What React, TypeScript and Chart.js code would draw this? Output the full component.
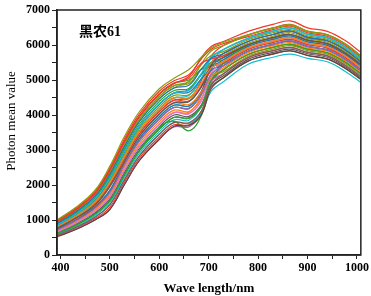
import React, { useEffect, useRef } from 'react';
import { Chart, registerables } from 'chart.js';

Chart.register(...registerables);

const wavelengths = [393, 430, 470, 500, 530, 560, 600, 630, 660, 685, 705, 730, 780, 830, 865, 900, 940, 975, 1008];

const s01 = [1000, 1350, 1850, 2540, 3400, 4100, 4750, 5050, 5300, 5650, 5920, 6080, 6290, 6480, 6560, 6390, 6290, 6040, 5690];
const s02 = [950, 1290, 1770, 2430, 3260, 3960, 4600, 4900, 5100, 5630, 5960, 6100, 6390, 6590, 6690, 6490, 6390, 6140, 5790];
const s03 = [900, 1220, 1680, 2310, 3110, 3820, 4460, 4770, 4850, 5305, 5620, 5755, 6100, 6300, 6400, 6220, 6120, 5870, 5520];
const s04 = [860, 1160, 1600, 2190, 2970, 3680, 4320, 4630, 4700, 5180, 5660, 5870, 6190, 6390, 6490, 6310, 6210, 5960, 5610];
const s05 = [810, 1100, 1510, 2070, 2820, 3540, 4170, 4490, 4500, 4905, 5340, 5525, 5910, 6110, 6210, 6050, 5950, 5690, 5360];
const s06 = [760, 1040, 1430, 1960, 2680, 3400, 4030, 4350, 4380, 4810, 5390, 5640, 6010, 6210, 6300, 6140, 6040, 5780, 5440];
const s07 = [710, 970, 1340, 1790, 2590, 3260, 3880, 4210, 4200, 4580, 5160, 5410, 5820, 6020, 6120, 5960, 5860, 5610, 5270];
const s08 = [660, 910, 1250, 1670, 2450, 3120, 3740, 4070, 4030, 4435, 5200, 5525, 5920, 6120, 6200, 6050, 5950, 5700, 5350];
const s09 = [620, 850, 1170, 1550, 2300, 2980, 3590, 3930, 3900, 4255, 4980, 5295, 5730, 5930, 6020, 5880, 5780, 5520, 5180];
const s10 = [570, 780, 1080, 1440, 2160, 2840, 3450, 3790, 3780, 4110, 4860, 5180, 5640, 5840, 5930, 5790, 5690, 5430, 5100];
const s11 = [520, 720, 1000, 1300, 2020, 2700, 3300, 3680, 3700, 4005, 4750, 5065, 5540, 5740, 5830, 5700, 5600, 5350, 5020];
const s12 = [950, 1280, 1760, 2420, 3250, 3960, 4600, 4910, 5050, 5480, 5600, 5690, 6010, 6210, 6300, 6140, 6030, 5780, 5440];
const s13 = [910, 1230, 1690, 2310, 3120, 3830, 4470, 4780, 4950, 5455, 5830, 5985, 6280, 6480, 6580, 6400, 6300, 6050, 5700];
const s14 = [850, 1150, 1590, 2180, 2960, 3670, 4300, 4620, 4650, 5030, 5300, 5410, 5820, 6020, 6110, 5960, 5860, 5600, 5270];
const s15 = [800, 1090, 1500, 2065, 2810, 3530, 4160, 4480, 4560, 5040, 5620, 5870, 6190, 6400, 6490, 6300, 6200, 5950, 5600];
const s16 = [760, 1030, 1420, 1950, 2670, 3390, 4020, 4340, 4300, 4655, 5100, 5295, 5730, 5930, 6030, 5880, 5780, 5520, 5190];
const s17 = [720, 980, 1350, 1800, 2600, 3270, 3890, 4220, 4180, 4635, 5420, 5755, 6100, 6300, 6400, 6220, 6120, 5870, 5520];
const s18 = [660, 900, 1250, 1660, 2440, 3110, 3730, 4060, 4050, 4380, 4940, 5180, 5630, 5830, 5930, 5790, 5690, 5430, 5100];
const s19 = [610, 840, 1170, 1560, 2310, 3000, 3650, 3820, 3550, 3980, 4900, 5500, 6000, 6200, 6300, 6130, 6030, 5780, 5440];
const s20 = [570, 790, 1090, 1440, 2150, 2830, 3440, 3780, 3760, 4040, 4680, 4950, 5450, 5650, 5740, 5620, 5520, 5260, 4930];
const s21 = [530, 730, 1010, 1310, 2030, 2710, 3310, 3660, 3660, 4040, 5000, 5410, 5820, 6020, 6110, 5960, 5860, 5610, 5270];
const s22 = [830, 1130, 1550, 2130, 2890, 3610, 4240, 4560, 4580, 5020, 5500, 5700, 6050, 6250, 6350, 6180, 6080, 5820, 5480];
const s23 = [780, 1070, 1470, 2010, 2750, 3470, 4100, 4420, 4400, 4790, 5260, 5470, 5870, 6070, 6160, 6010, 5910, 5650, 5310];
const s24 = [740, 1000, 1380, 1850, 2660, 3330, 3950, 4280, 4260, 4680, 5310, 5580, 5960, 6160, 6260, 6090, 5990, 5740, 5400];
const s25 = [690, 940, 1300, 1730, 2520, 3190, 3810, 4140, 4100, 4470, 5090, 5350, 5780, 5980, 6070, 5920, 5820, 5560, 5230];
const s26 = [880, 1190, 1640, 2250, 3040, 3750, 4390, 4700, 4760, 5165, 5420, 5525, 5910, 6110, 6210, 6050, 5950, 5690, 5360];
const s27 = [930, 1260, 1720, 2360, 3180, 3890, 4530, 4840, 4960, 5430, 5700, 5810, 6150, 6350, 6440, 6260, 6160, 5910, 5570];
const s28 = [640, 880, 1210, 1610, 2370, 3050, 3660, 4000, 3960, 4280, 4870, 5120, 5590, 5790, 5880, 5750, 5650, 5390, 5060];
const s29 = [590, 810, 1130, 1500, 2230, 2910, 3520, 3860, 3850, 4240, 5100, 5470, 5870, 6070, 6160, 6010, 5910, 5650, 5310];
const s30 = [980, 1320, 1810, 2480, 3330, 4030, 4680, 4980, 5150, 5600, 5880, 6040, 6240, 6440, 6540, 6350, 6250, 6000, 5650];
const s31 = [770, 1040, 1420, 1960, 2680, 3410, 4030, 4360, 4400, 4855, 5485, 5755, 6100, 6300, 6390, 6220, 6120, 5860, 5530];
const s32 = [810, 1090, 1520, 2080, 2830, 3550, 4180, 4500, 4470, 4810, 5110, 5240, 5680, 5880, 5980, 5840, 5740, 5480, 5140];
const s33 = [545, 750, 1040, 1370, 2090, 2770, 3370, 3720, 3720, 4075, 4930, 5295, 5730, 5930, 6020, 5880, 5780, 5520, 5190];
const s34 = [955, 1285, 1765, 2420, 3255, 3960, 4605, 4910, 5000, 5300, 5400, 5470, 5820, 6020, 6110, 5960, 5860, 5610, 5270];
const s35 = [665, 905, 1260, 1675, 2440, 3125, 3730, 4075, 4080, 4560, 5480, 5870, 6190, 6390, 6490, 6310, 6210, 5960, 5610];
const s36 = [855, 1165, 1595, 2190, 2965, 3685, 4315, 4635, 4720, 5150, 5490, 5640, 6000, 6200, 6300, 6130, 6040, 5790, 5450];
const s37 = [615, 845, 1175, 1555, 2305, 2985, 3595, 3935, 3920, 4225, 4810, 5065, 5545, 5745, 5835, 5705, 5605, 5345, 5015];
const s38 = [785, 1065, 1465, 2015, 2745, 3475, 4095, 4425, 4470, 4975, 5680, 5985, 6290, 6490, 6590, 6390, 6290, 6040, 5690];
const s39 = [735, 1005, 1385, 1845, 2665, 3335, 3955, 4285, 4250, 4580, 5000, 5180, 5635, 5835, 5925, 5795, 5695, 5435, 5100];
const s40 = [930, 1255, 1720, 2365, 3180, 3890, 4530, 4840, 4900, 5320, 5500, 5580, 5960, 6160, 6260, 6090, 5990, 5740, 5400];

const seriesValues = [s01, s02, s03, s04, s05, s06, s07, s08, s09, s10, s11, s12, s13, s14, s15, s16, s17, s18, s19, s20,
  s21, s22, s23, s24, s25, s26, s27, s28, s29, s30, s31, s32, s33, s34, s35, s36, s37, s38, s39, s40];

const seriesColors = [
  '#8f9a10', '#f0392b', '#1f77b4', '#17becf', '#ff7f0e', '#595959', '#9467bd', '#e377c2', '#2ca02c', '#8c564b',
  '#6b3f35', '#f0392b', '#8f9a10', '#1f77b4', '#17becf', '#ff7f0e', '#595959', '#e377c2', '#2ca02c', '#17becf',
  '#9467bd', '#8f9a10', '#f0392b', '#1f77b4', '#ff7f0e', '#2ca02c', '#8f9a10', '#595959', '#17becf', '#f0392b',
  '#e377c2', '#8f9a10', '#f0392b', '#2ca02c', '#ff7f0e', '#1f77b4', '#595959', '#f0392b', '#17becf', '#8f9a10',
];

const xTickValues = [400, 450, 500, 550, 600, 650, 700, 750, 800, 850, 900, 950, 1000];
const yTickValues = [0, 500, 1000, 1500, 2000, 2500, 3000, 3500, 4000, 4500, 5000, 5500, 6000, 6500, 7000];

const chartTitle = '黑农61';
const xTitle = 'Wave length/nm';
const yTitle = 'Photon mean value';

const SERIF = '"Liberation Serif", "Times New Roman", serif';

const framePlugin = {
  id: 'frame',
  afterDraw(chart: any) {
    const { ctx, chartArea } = chart;
    ctx.save();
    ctx.strokeStyle = '#222';
    ctx.lineWidth = 1.5;
    ctx.strokeRect(chartArea.left, chartArea.top, chartArea.right - chartArea.left, chartArea.bottom - chartArea.top);
    ctx.fillStyle = '#000';
    ctx.textBaseline = 'middle';
    ctx.textAlign = 'left';
    ctx.font = 'bold 14px "Noto Sans CJK SC", sans-serif';
    const x0 = chartArea.left + 22;
    const y0 = chartArea.top + 21;
    const cjk = chartTitle.replace(/[0-9]+$/, '');
    const num = chartTitle.slice(cjk.length);
    ctx.fillText(cjk, x0, y0);
    const w = ctx.measureText(cjk).width;
    ctx.font = 'bold 14px ' + SERIF;
    ctx.fillText(num, x0 + w, y0 + 1);
    ctx.save();
    ctx.translate(12, 121);
    ctx.rotate(-Math.PI / 2);
    ctx.textAlign = 'center';
    ctx.font = '13px ' + SERIF;
    ctx.fillText(yTitle, 0, 0);
    ctx.restore();
    ctx.restore();
  },
};

export default function App() {
  const canvasRef = useRef<HTMLCanvasElement | null>(null);

  useEffect(() => {
    document.body.style.margin = '0';
    const canvas = canvasRef.current;
    if (!canvas) return;
    const datasets = seriesValues.map((vals, i) => ({
      label: 'S' + (i + 1),
      data: vals.map((v, j) => ({ x: wavelengths[j], y: v })),
      borderColor: seriesColors[i % seriesColors.length],
      backgroundColor: seriesColors[i % seriesColors.length],
      borderWidth: 1.2,
      pointRadius: 0,
      tension: 0.4,
      fill: false,
    }));
    const chart = new Chart(canvas, {
      type: 'line',
      data: { datasets },
      options: {
        animation: false,
        responsive: false,
        maintainAspectRatio: false,
        layout: { padding: { left: 0, right: 9, top: 10, bottom: 0 } },
        plugins: { legend: { display: false }, tooltip: { enabled: false }, title: { display: false } },
        scales: {
          x: {
            type: 'linear',
            min: 393,
            max: 1008,
            afterBuildTicks: (scale: any) => {
              scale.ticks = xTickValues.map((v) => ({ value: v }));
            },
            afterFit: (scale: any) => {
              scale.height = 41;
            },
            ticks: {
              autoSkip: false,
              maxRotation: 0,
              color: '#000',
              padding: 2,
              font: { family: SERIF, size: 12, weight: 'bold' },
              callback: (v: any) => (Number(v) % 100 === 0 ? String(v) : ''),
            },
            grid: { drawOnChartArea: false, drawTicks: true, tickLength: 4, color: '#222', lineWidth: 1 },
            border: { display: true, color: '#222', width: 1.5 },
            title: {
              display: true,
              text: xTitle,
              color: '#000',
              font: { family: SERIF, size: 13, weight: 'bold' },
              padding: { top: 2, bottom: 0 },
            },
          },
          y: {
            type: 'linear',
            min: 0,
            max: 7000,
            afterBuildTicks: (scale: any) => {
              scale.ticks = yTickValues.map((v) => ({ value: v }));
            },
            afterFit: (scale: any) => {
              scale.width = 57;
            },
            ticks: {
              autoSkip: false,
              color: '#000',
              padding: 2,
              font: { family: SERIF, size: 12, weight: 'bold' },
              callback: (v: any) => (Number(v) % 1000 === 0 ? String(v) : ''),
            },
            grid: { drawOnChartArea: false, drawTicks: true, tickLength: 5, color: '#222', lineWidth: 1 },
            border: { display: true, color: '#222', width: 1.5 },
            title: { display: false },
          },
        },
      },
      plugins: [framePlugin],
    });
    return () => chart.destroy();
  }, []);

  return (
    <div style={{ position: 'absolute', left: 0, top: 0, width: 371, height: 296, background: '#fff' }}>
      <canvas ref={canvasRef} width={371} height={296} style={{ width: 371, height: 296, display: 'block' }} />
    </div>
  );
}
